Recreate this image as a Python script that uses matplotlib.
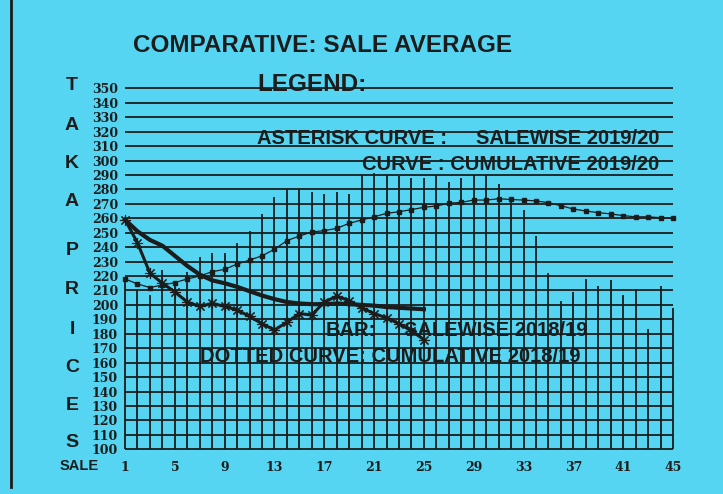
import matplotlib
matplotlib.use("Agg")
import matplotlib.pyplot as plt
from matplotlib.lines import Line2D

W, H = 723, 494

# sale numbers and the four series
sales = list(range(1, 46))
bar_1819 = [218, 210, 207, 224, 216, 223, 233, 236, 236, 243,
            251, 263, 275, 280, 280, 278, 277, 278, 277, 290,
            291, 290, 289, 288, 288, 290, 285, 288, 290, 290,
            284, 273, 266, 248, 222, 203, 209, 218, 213, 217,
            207, 211, 183, 213, 198]
cum_1819 = [218, 214.5, 212, 213.8, 215.4, 218, 220, 223, 224.6, 228.3,
            231, 234, 238.5, 244.5, 247.7, 250.5, 251.4, 253, 256.5, 258.8,
            261, 263.4, 264.5, 266, 267.6, 268.5, 270.4, 271, 272.6, 272.6,
            273.5, 273, 272.6, 272, 270.8, 268.7, 266.4, 265, 263.9, 263,
            261.8, 261, 261, 260.4, 260]

sales_2020 = list(range(1, 26))
sw_2020 = [259, 243, 222, 215, 209, 202, 199, 201, 199, 196.5,
           192, 187, 182.6, 188, 194, 193, 202, 206, 203, 198,
           194, 191, 187, 182, 176]
cum_2020 = [259, 251, 245, 241, 234, 227, 221, 217, 215, 212.5,
            209.5, 206.5, 204, 202, 201, 200.5, 200.5, 201, 200.5, 200,
            199.5, 198.5, 198, 197.5, 197]

y_ticks = list(range(100, 351, 10))
x_ticks = list(range(1, 46, 4))
side_letters = ["T", "A", "K", "A", "P", "R", "I", "C", "E", "S"]
side_letter_y = [86, 125, 163, 202, 250, 290, 330, 367, 405, 442]

BG = "#55d5f2"
INK = "#1c1c1c"


def fx(px):
    return px / W


def fy(py):
    return 1 - py / H


fig = plt.figure(figsize=(W / 100, H / 100), dpi=100, facecolor=BG)
ax = fig.add_axes([fx(125), fy(449.3), 548 / W, (449.3 - 88.3) / H])
ax.set_facecolor(BG)
ax.set_xlim(1, 45)
ax.set_ylim(100, 350)

# ruled lines every 10 takas
ax.hlines(y_ticks, 1, 45, color=INK, lw=1.3, clip_on=False)
# salewise 2018/19 bars, printed as vertical strokes
ax.vlines(sales, 100, bar_1819, color=INK, lw=1.3, clip_on=False)

# dotted curve: cumulative 2018/19
ax.plot(sales, cum_1819, color=INK, lw=0.9, marker="s", ms=3.5, clip_on=False)
# curve: cumulative 2019/20
ax.plot(sales_2020, cum_2020, color=INK, lw=3, clip_on=False)
# asterisk curve: salewise 2019/20
ax.plot(sales_2020, sw_2020, color=INK, lw=2.2, marker=(8, 2, 0), ms=8,
        mew=0.8, clip_on=False)

for s in ax.spines.values():
    s.set_visible(False)
ax.set_yticks(y_ticks)
ax.set_xticks(x_ticks)
ax.tick_params(length=0, colors=INK)
ax.tick_params(axis="y", pad=5)
ax.tick_params(axis="x", pad=8.5)
for lab in ax.get_yticklabels() + ax.get_xticklabels():
    lab.set_fontfamily("DejaVu Serif")
    lab.set_fontweight("bold")
    lab.set_fontsize(9)

sans = "Liberation Sans"
fig.text(fx(133), fy(46), "COMPARATIVE: SALE AVERAGE", fontsize=17.5,
         weight="bold", family=sans, color=INK, va="center")
fig.text(fx(257), fy(84), "LEGEND:", fontsize=17.5, weight="bold",
         family=sans, color=INK, va="center")
fig.text(fx(257), fy(139), "ASTERISK CURVE :", fontsize=14.5, weight="bold",
         family=sans, color=INK, va="center")
fig.text(fx(476), fy(139), "SALEWISE 2019/20", fontsize=14.5, weight="bold",
         family=sans, color=INK, va="center")
fig.text(fx(362), fy(165), "CURVE : CUMULATIVE 2019/20", fontsize=14.5,
         weight="bold", family=sans, color=INK, va="center")
fig.text(fx(326), fy(330), "BAR:", fontsize=14.5, weight="bold",
         family=sans, color=INK, va="center")
fig.text(fx(404), fy(330), "SALEWISE 2018/19", fontsize=14.5, weight="bold",
         family=sans, color=INK, va="center")
fig.text(fx(200), fy(356), "DOTTED CURVE: CUMULATIVE 2018/19", fontsize=14.5,
         weight="bold", family=sans, color=INK, va="center")

for ch, yy in zip(side_letters, side_letter_y):
    fig.text(fx(72), fy(yy), ch, fontsize=14, weight="bold", family=sans,
             color=INK, ha="center", va="center")
fig.text(fx(79), fy(466), "SALE", fontsize=10.5, weight="bold", family=sans,
         color=INK, ha="center", va="center")

# edge of the printout paper
fig.add_artist(Line2D([fx(11), fx(11)], [fy(0), fy(487)], color=INK, lw=2,
                      transform=fig.transFigure))

fig.savefig("out.png", dpi=100, facecolor=BG)
